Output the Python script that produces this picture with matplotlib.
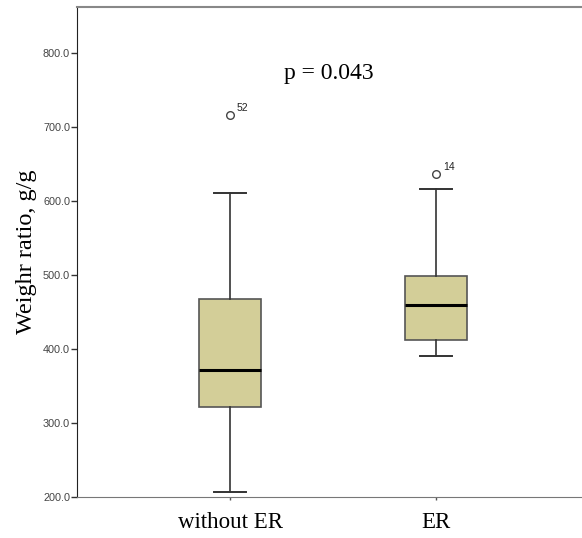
"""
Boxplot of weight ratio for patients with and without ER.
"""

import matplotlib
matplotlib.use('Agg')
from matplotlib import pyplot as plt

# groups and box statistics (g/g)
groups = ['without ER', 'ER']
whisker_low = [207, 390]
q1 = [321, 412]
median = [372, 459]
q3 = [468, 498]
whisker_high = [611, 616]
outliers = [[716], [636]]
outlier_ids = [['52'], ['14']]

p_text = 'p = 0.043'

box_color = '#d3ce98'
edge_color = '#555555'

fig = plt.figure(figsize=(5.82, 5.38), dpi=100)
ax = fig.add_axes([77 / 582, 41 / 538, 1 - 77 / 582, 490 / 538])

stats = []
for i, name in enumerate(groups):
    stats.append({
        'label': name,
        'whislo': whisker_low[i],
        'q1': q1[i],
        'med': median[i],
        'q3': q3[i],
        'whishi': whisker_high[i],
        'fliers': outliers[i],
    })

positions = list(range(1, len(groups) + 1))
ax.bxp(stats, positions=positions, widths=0.305, capwidths=0.155,
       patch_artist=True, showfliers=True,
       boxprops=dict(facecolor=box_color, edgecolor=edge_color, linewidth=1.2),
       medianprops=dict(color='black', linewidth=2.2),
       whiskerprops=dict(color='#333333', linewidth=1.2),
       capprops=dict(color='#333333', linewidth=1.4),
       flierprops=dict(marker='o', markersize=5.5, markerfacecolor='white',
                       markeredgecolor='#444444', markeredgewidth=1.0))

# case numbers beside the outliers
for pos, vals, ids in zip(positions, outliers, outlier_ids):
    for v, label in zip(vals, ids):
        ax.annotate(label, (pos, v), xytext=(5, 3), textcoords='offset points',
                    fontsize=7.5, family='Liberation Sans', color='#222222')

ax.text(1.48, 772, p_text, fontsize=17, family='Liberation Serif',
        ha='center', va='center')

ax.set_xlim(0.257, 2.709)
ax.set_ylim(200, 862)
ax.set_yticks(range(200, 900, 100))
ax.set_yticklabels(['{:.1f}'.format(t) for t in range(200, 900, 100)],
                   fontsize=7.8, family='Liberation Sans', color='#444444')
ax.set_xticks(positions)
ax.set_xticklabels(groups, fontsize=16.5, family='Liberation Serif')
ax.tick_params(axis='y', length=4, width=1, color='#333333', pad=1)
ax.tick_params(axis='x', length=2, width=1, color='#555555', pad=9)

ax.set_ylabel('Weighr ratio, g/g', fontsize=17.5, family='Liberation Serif',
              labelpad=4)

ax.spines['left'].set_color('#222222')
ax.spines['bottom'].set_color('#777777')
ax.spines['top'].set_color('#888888')
ax.spines['top'].set_linewidth(1.5)
ax.spines['right'].set_visible(False)

fig.savefig('out.png', dpi=100)
